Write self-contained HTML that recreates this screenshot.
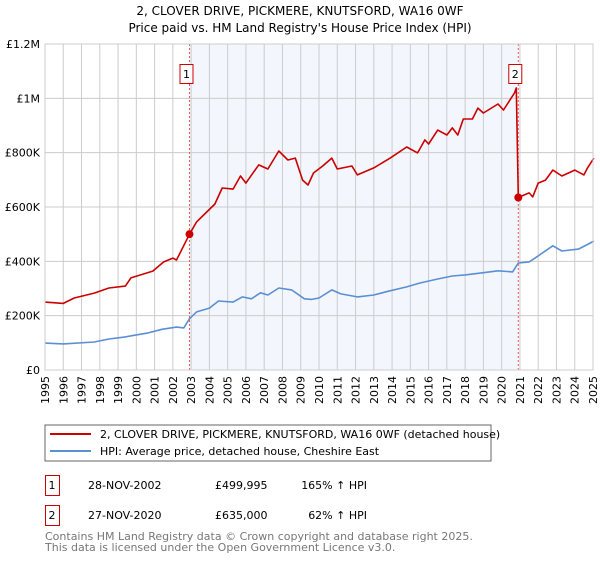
<!DOCTYPE html>
<html><head><meta charset="utf-8"><style>
body{margin:0;background:#fff;font-family:"DejaVu Sans","Liberation Sans",sans-serif;}
svg text{font-family:"DejaVu Sans","Liberation Sans",sans-serif;}
</style></head><body>
<svg id="c" width="600" height="560" xmlns="http://www.w3.org/2000/svg">
<text x="300" y="15" text-anchor="middle" font-size="12">2, CLOVER DRIVE, PICKMERE, KNUTSFORD, WA16 0WF</text>
<text x="300" y="32" text-anchor="middle" font-size="12">Price paid vs. HM Land Registry's House Price Index (HPI)</text>
<g id="plot"></g>
<rect x="45" y="425" width="446" height="36" fill="none" stroke="#666"/>
<line x1="50" y1="434" x2="91" y2="434" stroke="#cc0000" stroke-width="2"/>
<text x="100" y="438" font-size="11">2, CLOVER DRIVE, PICKMERE, KNUTSFORD, WA16 0WF (detached house)</text>
<line x1="50" y1="451" x2="91" y2="451" stroke="#5b8fd4" stroke-width="2"/>
<text x="100" y="455" font-size="11">HPI: Average price, detached house, Cheshire East</text>
<g>
<rect x="45.5" y="475.5" width="14" height="20" fill="none" stroke="#cc0000"/>
<text x="52" y="489" font-size="11" text-anchor="middle">1</text>
<text x="88" y="489" font-size="11">28-NOV-2002</text>
<text x="215" y="489" font-size="11">£499,995</text>
<text x="367" y="489" font-size="11" text-anchor="end">165% ↑ HPI</text>
</g>
<g>
<rect x="45.5" y="505.5" width="14" height="20" fill="none" stroke="#cc0000"/>
<text x="52" y="519" font-size="11" text-anchor="middle">2</text>
<text x="88" y="519" font-size="11">27-NOV-2020</text>
<text x="215" y="519" font-size="11">£635,000</text>
<text x="367" y="519" font-size="11" text-anchor="end">62% ↑ HPI</text>
</g>
<text x="45" y="540" font-size="11" fill="#777">Contains HM Land Registry data © Crown copyright and database right 2025.</text>
<text x="45" y="551" font-size="11" fill="#777">This data is licensed under the Open Government Licence v3.0.</text>
</svg>
<script>
const yTicks=[0,200,400,600,800,1000,1200];
const yTickLabels=["£0","£200K","£400K","£600K","£800K","£1M","£1.2M"];
const xYears=[1995,1996,1997,1998,1999,2000,2001,2002,2003,2004,2005,2006,2007,2008,2009,2010,2011,2012,2013,2014,2015,2016,2017,2018,2019,2020,2021,2022,2023,2024,2025];
const saleYears=[2002.91,2020.91];
const saleValues=[499.995,635];
const saleLabels=["1","2"];
const redYears=[1995,1996,1996.6,1997.7,1998.5,1999.4,1999.7,2000.9,2001.5,2002,2002.2,2002.91,2003.3,2003.8,2004.3,2004.7,2005.3,2005.7,2006,2006.7,2007.2,2007.8,2008.3,2008.7,2009.1,2009.4,2009.7,2010.2,2010.7,2011,2011.8,2012.1,2013,2013.9,2014.8,2015.4,2015.8,2016,2016.5,2017,2017.3,2017.6,2017.9,2018.4,2018.7,2019,2019.8,2020.1,2020.7,2020.8,2020.91,2021.5,2021.7,2022,2022.4,2022.8,2023.3,2024,2024.5,2024.7,2025.05];
const redValues=[250,245,265,283,302,309,339,364,398,412,405,500,545,578,611,670,666,714,688,755,740,806,773,780,699,681,725,751,780,740,751,718,744,780,821,799,847,832,883,865,891,865,924,924,964,946,979,957,1020,1038,635,652,637,688,699,736,714,736,718,744,780];
const hpiYears=[1995,1996,1997.7,1998.5,1999.4,2000.6,2001.4,2002.2,2002.6,2002.91,2003.3,2004,2004.5,2005.3,2005.8,2006.3,2006.8,2007.2,2007.8,2008.5,2009.2,2009.6,2010,2010.7,2011.2,2012.1,2013,2013.8,2014.8,2015.5,2016.5,2017.3,2018,2019,2019.8,2020.6,2020.91,2021.5,2022,2022.8,2023.3,2024.2,2024.7,2025.05];
const hpiValues=[99,96,103,114,122,136,150,158,155,189,214,228,254,250,269,262,284,276,302,295,262,260,265,295,280,269,276,290,306,320,335,346,350,358,365,361,394,398,420,457,438,445,462,475];

const X0=45,X1=593,Y0=370,Y1=44;
const xs=y=>X0+(y-1995)/30*(X1-X0);
const ys=v=>Y0-v/1200*(Y0-Y1);
const NS="http://www.w3.org/2000/svg";
const g=document.getElementById('plot');
function mk(t,a){const e=document.createElementNS(NS,t);for(const k in a)e.setAttribute(k,a[k]);g.appendChild(e);return e;}
let e;
e=mk('rect',{x:xs(saleYears[0]),y:Y1,width:xs(saleYears[1])-xs(saleYears[0]),height:Y0-Y1,fill:'#f3f6fd'});


xYears.forEach(yr=>{
 e=mk('line',{x1:xs(yr),x2:xs(yr),y1:Y1,y2:Y0,stroke:'#cccccc'});
 
 
 const tx=xs(yr)+4, ty=Y0+6;
 e=mk('text',{x:tx,y:ty,'text-anchor':'end','font-size':11,transform:'rotate(-90 '+tx+' '+ty+')'});
 e.textContent=yr;
 
 
});
yTicks.forEach((v,i)=>{
 e=mk('line',{x1:X0,x2:X1,y1:ys(v),y2:ys(v),stroke:'#cccccc'});
 
 
 e=mk('text',{x:40,y:ys(v)+4,'text-anchor':'end','font-size':11});
 e.textContent=yTickLabels[i];
 
 
});
saleYears.forEach((yr,i)=>{
 e=mk('line',{x1:xs(yr),x2:xs(yr),y1:Y1,y2:Y0,stroke:'#ee5555','stroke-dasharray':'2,2'});
 
 
});
function path(xa,va,col,name){
 const d=xa.map((yr,i)=>(i?'L':'M')+xs(yr).toFixed(1)+','+ys(va[i]).toFixed(1)).join('');
 e=mk('path',{d:d,fill:'none',stroke:col,'stroke-width':1.6,'stroke-linejoin':'round'});
 
 
}
path(hpiYears,hpiValues,'#5b8fd4','hpi-line');
path(redYears,redValues,'#cc0000','property-price-line');
saleYears.forEach((yr,i)=>{
 e=mk('circle',{cx:xs(yr),cy:ys(saleValues[i]),r:4,fill:'#cc0000'});
 
 
 e=mk('rect',{x:xs(yr)-9.5,y:64.5,width:13,height:19,fill:'#fff',stroke:'#cc0000'});
 
 
 e=mk('text',{x:xs(yr)-3,y:78,'text-anchor':'middle','font-size':11});
 e.textContent=saleLabels[i];
 
 
});
e=mk('rect',{x:X0,y:Y1,width:X1-X0,height:Y0-Y1,fill:'none',stroke:'#cccccc'});


</script>
</body></html>
